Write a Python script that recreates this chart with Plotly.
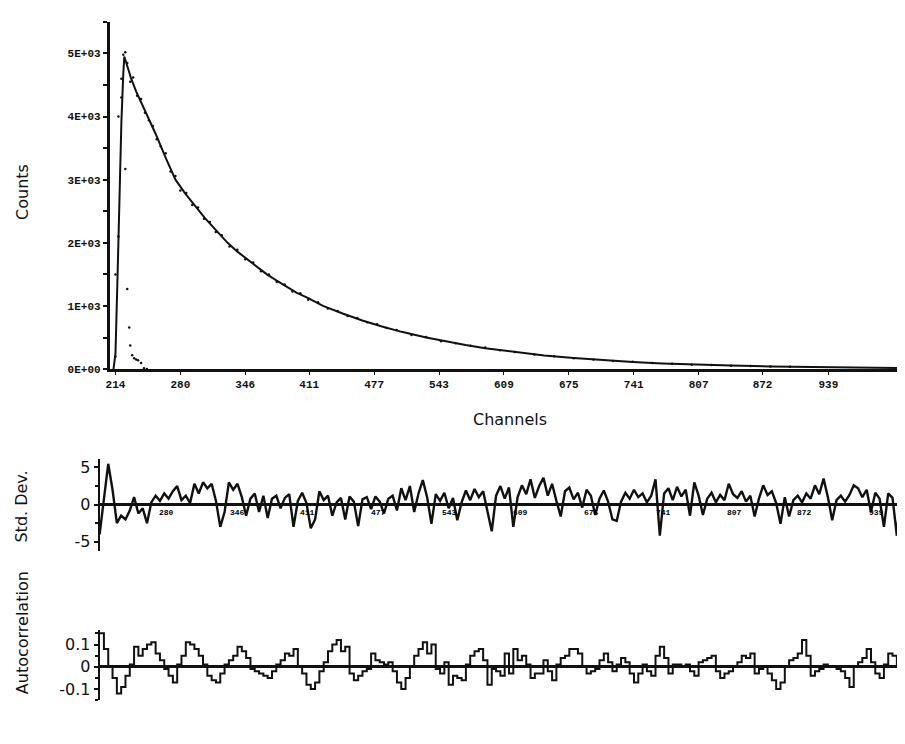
import plotly.graph_objects as go

W, H = 905, 744

# ---- decay: fitted curve (channel, counts)
fit_ch = [212, 214, 216, 218, 220, 222, 223, 226, 230, 235, 240, 247, 255, 265, 275, 285, 295,
          305, 315, 328, 338, 348, 358, 368, 378, 388, 398, 410, 425, 445, 465, 485, 505, 530,
          550, 570, 590, 610, 630, 650, 680, 710, 740, 770, 800, 840, 880, 920, 960, 1000, 1015]
fit_counts = [0, 250, 1400, 2700, 3900, 4700, 4950, 4800, 4600, 4400, 4230, 4000, 3720, 3350, 3000,
              2780, 2580, 2390, 2220, 2000, 1860, 1735, 1615, 1500, 1400, 1300, 1210, 1125, 1000,
              880, 770, 675, 590, 500, 435, 380, 330, 290, 250, 215, 175, 140, 112, 90, 72, 55,
              42, 33, 26, 20, 18]

# ---- decay: measured points
dot_ch = [214, 217, 220, 222, 224, 226, 229, 232, 236, 240, 244, 248, 252, 256, 260, 265, 270,
          275, 280, 286, 292, 298, 304, 310, 316, 322, 330, 338, 346, 354, 362, 370, 378, 386,
          394, 402, 410, 420, 430, 440, 450, 460, 470, 480, 490, 500, 515, 530, 545, 560, 575,
          590, 605, 620, 640, 660, 680, 700, 720, 740, 760, 780, 800, 820, 840, 860, 880, 900]
dot_counts = [200, 2100, 4300, 4980, 5020, 4850, 4550, 4620, 4330, 4280, 4060, 3940, 3850, 3640,
              3530, 3420, 3130, 3060, 2830, 2790, 2600, 2560, 2380, 2330, 2170, 2120, 1940, 1890,
              1740, 1690, 1550, 1500, 1380, 1340, 1230, 1200, 1100, 1060, 960, 920, 840, 810,
              740, 710, 650, 620, 540, 510, 440, 410, 370, 340, 300, 270, 230, 205, 170, 150,
              128, 115, 95, 85, 70, 65, 52, 48, 40, 37]

# ---- instrument response (lamp) points
irf_ch = [214, 217, 220, 224, 226, 228, 229, 231, 233, 235, 237, 240, 243, 246]
irf_counts = [1500, 4000, 4600, 3170, 1270, 660, 375, 220, 170, 150, 140, 95, 15, 0]

x_ticks = [214, 280, 346, 411, 477, 543, 609, 675, 741, 807, 872, 939]

# ---- weighted residuals
resid = [
    -4.0, 0.5, 5.5, 2.0, -2.5, -1.5, -2.0, -0.8, 1.0, -1.2, -0.5, -2.5, 0.3, 1.2, 0.5, 1.5, 0.8, 1.8, 2.5, 0.6,
    1.2, 0.2, 2.8, 1.5, 3.0, 2.2, 2.8, 0.5, -3.0, -1.0, 3.0, 2.0, 2.8, 1.0, -1.5, 0.8, 1.5, -1.0, 1.2, -1.8,
    0.8, 1.2, -0.5, 0.9, 1.4, -3.0, 0.5, 1.6, 0.2, -3.2, -2.0, 1.8, 0.6, 1.2, -1.5, 0.3, 0.9, -2.0, 1.1, 0.4,
    -2.9, 0.7, 1.0, -0.6, 1.1, 0.4, -1.2, 0.8, 1.2, -0.8, 2.2, 0.6, 2.5, -1.0, 1.5, 3.3, 1.0, -2.6, 1.4, 0.5,
    1.6, -0.5, 0.9, -2.1, 0.3, 1.9, 0.6, 2.1, 1.0, 1.8, -0.8, -3.6, 1.2, 2.5, 0.8, 2.3, -3.0, 1.0, 2.6, 1.4,
    3.4, 0.9, 2.5, 3.6, 1.2, 2.8, 0.5, -1.6, 1.8, 2.3, 0.7, 1.6, -0.4, 2.0, 1.2, -1.4, 0.8, 1.9, 0.4, -2.0,
    -2.2, 0.4, 1.6, 0.8, 2.0, 1.0, 1.5, 0.3, 1.2, 3.4, -4.2, 1.5, 2.2, 0.6, 2.4, 1.1, 2.0, -1.5, 3.0, 1.2,
    -1.4, 0.8, 1.6, 0.3, 1.3, 0.6, 2.8, 1.4, 0.9, 1.8, 0.4, 1.2, -1.6, 0.8, 2.6, 1.3, 1.8, 0.2, -2.6, 1.0,
    -1.6, 0.6, 1.2, 0.3, 1.5, 0.8, 2.6, 1.4, 3.5, 1.0, -2.1, 0.6, 1.2, 0.4, 1.3, 2.6, 2.2, 1.0, 2.0, -1.0,
    1.6, 0.8, -3.0, 1.5, 0.9, -4.2, 2.4, -2.8, 2.0, 0.5,
]

# ---- autocorrelation of residuals
autocorr = [
    0.15, 0.08, 0.00, -0.05, -0.12, -0.09, -0.04, 0.01, 0.09, 0.05, 0.08, 0.10, 0.11, 0.06, 0.03, -0.01, -0.04, -0.07, 0.01, 0.05,
    0.11, 0.10, 0.08, 0.05, 0.01, -0.04, -0.06, -0.07, -0.03, 0.01, 0.03, 0.05, 0.09, 0.07, 0.04, -0.01, -0.02, -0.03, -0.04, -0.05,
    -0.02, 0.01, 0.03, 0.06, 0.05, 0.08, 0.00, -0.03, -0.08, -0.10, -0.07, -0.02, 0.02, 0.07, 0.10, 0.12, 0.07, 0.09, -0.03, -0.06,
    -0.04, -0.02, -0.01, 0.06, 0.03, 0.02, 0.01, 0.02, -0.02, -0.07, -0.10, -0.05, 0.00, 0.05, 0.08, 0.11, 0.06, 0.10, -0.01, -0.03,
    0.02, -0.08, -0.04, -0.05, -0.06, 0.01, 0.05, 0.07, 0.08, 0.03, -0.08, -0.01, -0.02, -0.04, 0.06, -0.03, 0.08, 0.03, 0.05, 0.01,
    -0.05, -0.03, -0.03, 0.03, -0.02, -0.06, 0.01, 0.04, 0.05, 0.08, 0.08, 0.06, 0.00, -0.03, -0.02, -0.01, 0.03, 0.06, 0.02, -0.02,
    0.01, 0.04, 0.02, -0.03, -0.07, -0.03, 0.01, -0.02, -0.04, 0.05, 0.09, 0.04, -0.03, 0.01, 0.01, 0.00, 0.01, -0.02, -0.04, 0.02,
    0.03, 0.04, 0.05, -0.02, -0.05, -0.03, -0.02, 0.00, 0.02, 0.05, 0.04, 0.06, -0.03, -0.01, 0.00, -0.03, -0.06, -0.10, -0.07, 0.00,
    0.03, 0.04, 0.06, 0.12, 0.05, -0.04, -0.02, -0.01, 0.01, 0.00, 0.00, -0.01, -0.02, -0.05, -0.09, 0.00, 0.02, 0.04, 0.08, 0.02,
    -0.03, -0.05, 0.01, 0.06, 0.05, 0.00, 0.10, -0.02, -0.09, -0.05,
]
# residual / autocorrelation channels (every 4th channel)
res_ch = list(range(218, 218 + 4 * len(resid), 4))


def py(p):
    # pixel row -> paper fraction
    return 1 - p / H


ink = "#111111"
sans = "DejaVu Sans"
mono = dict(family="Liberation Mono", size=11, color=ink, weight="bold")

fig = go.Figure()

fig.add_trace(go.Scatter(x=irf_ch, y=irf_counts, mode="markers",
                         marker=dict(size=2.5, color=ink), xaxis="x", yaxis="y"))
fig.add_trace(go.Scatter(x=dot_ch, y=dot_counts, mode="markers",
                         marker=dict(size=2.5, color=ink), xaxis="x", yaxis="y"))
fig.add_trace(go.Scatter(x=fit_ch, y=fit_counts, mode="lines",
                         line=dict(color=ink, width=2), xaxis="x", yaxis="y"))
fig.add_trace(go.Scatter(x=res_ch, y=resid, mode="lines",
                         line=dict(color=ink, width=2.4), xaxis="x2", yaxis="y2"))
fig.add_trace(go.Scatter(x=res_ch, y=autocorr, mode="lines", line_shape="hv",
                         line=dict(color=ink, width=2), xaxis="x3", yaxis="y3"))

# small channel labels sitting on the residual zero line
annotations = [dict(x=t, y=-1.0, xref="x2", yref="y2", text=str(t), showarrow=False,
                    font=dict(family="Liberation Mono", size=8, color="black", weight="bold"))
               for t in x_ticks[1:]]

# axis titles
title_font = dict(family=sans, size=16, color=ink)
for px, pyy, txt, ang in [(10, 185, "Counts", -90), (500, 415, "Channels", 0),
                          (10, 503, "Std. Dev.", -90), (10, 630, "Autocorrelation", -90)]:
    annotations.append(dict(x=px / W, y=py(pyy), xref="paper", yref="paper", text=txt,
                            textangle=ang, xanchor="center", yanchor="middle",
                            showarrow=False, font=title_font))

fig.update_layout(
    width=W, height=H,
    margin=dict(l=0, r=0, t=0, b=0),
    paper_bgcolor="white", plot_bgcolor="white",
    showlegend=False,
    annotations=annotations,
    xaxis=dict(domain=[98 / W, 1], range=[208, 1025], tickvals=x_ticks,
               ticks="outside", ticklen=3, tickcolor=ink, tickfont=mono,
               showline=True, linecolor=ink, linewidth=3, showgrid=False, zeroline=False,
               anchor="y"),
    yaxis=dict(domain=[py(364), py(13)], range=[0, 5500],
               tickvals=[0, 1000, 2000, 3000, 4000, 5000],
               ticktext=["0E+00", "1E+03", "2E+03", "3E+03", "4E+03", "5E+03"],
               ticks="outside", ticklen=4, tickwidth=2, tickcolor=ink, tickfont=mono,
               minor=dict(dtick=500, ticks="outside", ticklen=4, tickwidth=2, tickcolor=ink),
               showline=True, linecolor=ink, linewidth=2.5, showgrid=False, zeroline=False,
               anchor="x"),
    xaxis2=dict(domain=[88 / W, 1], range=[218, 973], visible=False, anchor="y2"),
    yaxis2=dict(domain=[py(548), py(455)], range=[-6.27, 6.13],
                tickvals=[-5, 0, 5], ticktext=["-5", "0", "5"],
                ticks="outside", ticklen=4, tickwidth=2, tickcolor=ink,
                minor=dict(dtick=2.5, ticks="outside", ticklen=3, tickcolor=ink),
                tickfont=dict(family=sans, size=16, color=ink),
                showline=True, linecolor=ink, linewidth=2, showgrid=False,
                zeroline=True, zerolinecolor=ink, zerolinewidth=2.5, anchor="x2"),
    xaxis3=dict(domain=[88 / W, 1], range=[218, 973], visible=False, anchor="y3"),
    yaxis3=dict(domain=[py(699), py(628)], range=[-0.151, 0.164],
                tickvals=[-0.1, 0, 0.1], ticktext=["-0.1", "0", "0.1"],
                ticks="outside", ticklen=4, tickwidth=2, tickcolor=ink,
                minor=dict(dtick=0.05, ticks="outside", ticklen=3, tickcolor=ink),
                tickfont=dict(family=sans, size=16, color=ink),
                showline=True, linecolor=ink, linewidth=2, showgrid=False,
                zeroline=True, zerolinecolor=ink, zerolinewidth=2.5, anchor="x3"),
)

fig.write_html("out.html")
